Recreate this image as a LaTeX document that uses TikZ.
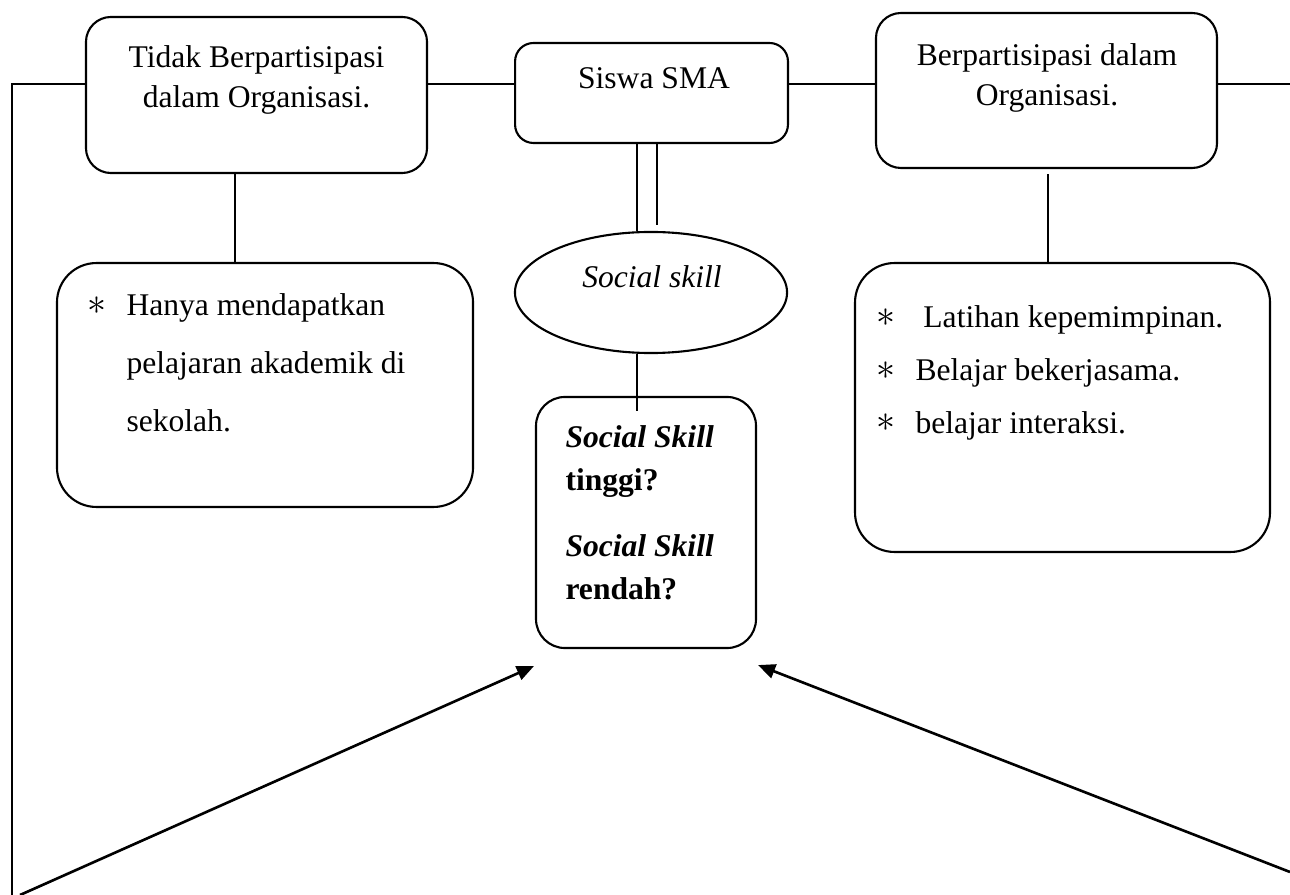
\documentclass[tikz,border=0pt]{standalone}
\usepackage{fontspec}
\setmainfont{Liberation Serif}
\usepackage{tikz}
\usetikzlibrary{arrows.meta}
\usetikzlibrary{calc}
\usetikzlibrary{shapes.geometric}
\newcommand\butir{\llap{\raisebox{.5pt}{\fontsize{14}{14}\selectfont$\ast$}\hspace{7.5pt}}}
\tikzstyle{kotak}=[draw,line width=.8pt,inner sep=0pt]
\tikzstyle{teks}=[inner sep=0pt,align=center,font=\fontsize{12}{15.2}\selectfont]
\tikzstyle{sambung}=[line width=.6pt]
\tikzstyle{panah}=[line width=1pt,-{Triangle[length=6.5pt,width=5.5pt]}]

\begin{document}
\begin{tikzpicture}[x=.38pt,y=-.38pt]
	\useasboundingbox (0,0) rectangle (1290,895);
	% kotak
	\node[kotak,rounded corners=9.5pt,minimum width=129.6pt,minimum height=59.3pt] (tidak) at (256.5,95) {};
	\node[kotak,rounded corners=7pt,minimum width=103.7pt,minimum height=38pt] (siswa) at (651.5,93) {};
	\node[kotak,rounded corners=9.5pt,minimum width=129.6pt,minimum height=58.9pt] (berp) at (1046.5,90.5) {};
	\node[kotak,ellipse,minimum width=103.4pt,minimum height=46pt] (sosial) at (651,292.5) {};
	\node[kotak,rounded corners=15pt,minimum width=158.1pt,minimum height=92.7pt] (kiri) at (265,385) {};
	\node[kotak,rounded corners=15pt,minimum width=157.7pt,minimum height=109.8pt] (kanan) at (1062.5,407.5) {};
	\node[kotak,rounded corners=11pt,minimum width=83.6pt,minimum height=95.4pt] (tanya) at (646,522.5) {};
	% teks
	\node[teks,anchor=north] (tidakT) at (256.5,45) {Tidak Berpartisipasi\\dalam Organisasi.};
	\node[teks,anchor=north] (siswaT) at (654,67) {Siswa SMA};
	\node[teks,anchor=north] (berpT) at (1047,43) {Berpartisipasi dalam\\Organisasi.};
	\node[teks,anchor=north] (sosialT) at (652,265) {\textit{Social skill}};
	\node[teks,anchor=north west,align=left,font=\fontsize{12}{16.3}\selectfont] (tanyaT) at (565,425)
		{\textbf{\textit{Social Skill}}\\\textbf{tinggi?}\\[9pt]\textbf{\textit{Social Skill}}\\\textbf{rendah?}};
	\node[teks,anchor=north west,align=left,font=\fontsize{12}{22}\selectfont] (kiriT) at (126,293)
		{\butir Hanya mendapatkan\\pelajaran akademik di\\sekolah.};
	\node[teks,anchor=north west,align=left,font=\fontsize{12}{20.1}\selectfont] (kananT) at (915,305)
		{\butir\hspace{3pt}Latihan kepemimpinan.\\\butir Belajar bekerjasama.\\\butir belajar interaksi.};
	% garis
	\coordinate (aras) at (0,84);
	\coordinate (ujungkiri) at (12,895);
	\coordinate (ujungkanan) at (1290,84);
	\coordinate (pkiri) at (20,895);
	\coordinate (pkanan) at (1290,872);
	\draw[sambung] (tidak.east |- aras) -- (siswa.west |- aras);
	\draw[sambung] (siswa.east |- aras) -- (berp.west |- aras);
	\draw[sambung] (berp.east |- aras) -- (ujungkanan);
	\draw[sambung] (tidak.west |- aras) -| (ujungkiri);
	\draw[sambung] ($(tidak.south)+(-21.5,0)$) -- ($(kiri.north)+(-30,0)$);
	\draw[sambung] ($(berp.south)+(1.5,5)$) -- ($(kanan.north)+(-14.5,0)$);
	\draw[sambung] ($(siswa.south)+(-14.5,0)$) -- ($(sosial.north)+(-14,0)$);
	\draw[sambung] ($(siswa.south)+(5.5,0)$) -- ($(sosial.north)+(6,-6)$);
	\draw[sambung] ($(sosial.south)+(-14,0)$) -- ($(tanya.north)+(-9,15)$);
	\draw[panah] (pkiri) -- ($(tanya.south west)+(-1,17)$);
	\draw[panah] (pkanan) -- ($(tanya.south east)+(1,16)$);
\end{tikzpicture}
\end{document}
